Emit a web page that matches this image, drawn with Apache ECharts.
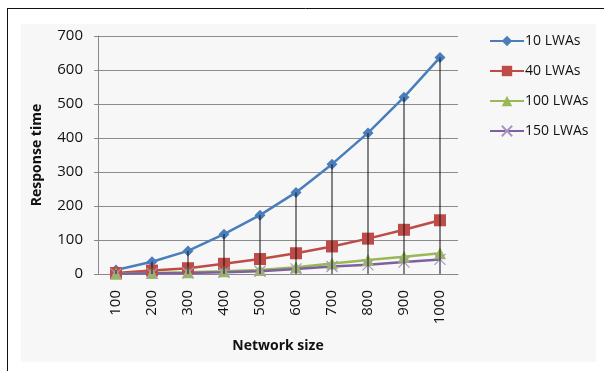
<!DOCTYPE html>
<html>
<head>
<meta charset="utf-8">
<script src="https://cdn.jsdelivr.net/npm/echarts@6/dist/echarts.min.js"></script>
<style>
  html, body { margin: 0; padding: 0; background: #fff; }
  #main { width: 604px; height: 371px; }
</style>
</head>
<body>
<div id="main"></div>
<script>
// network sizes on the x axis
const sizes = ['100', '200', '300', '400', '500', '600', '700', '800', '900', '1000'];
const lwa10 = [12, 36, 68, 117, 173, 240, 323, 415, 520, 637];
const lwa40 = [3, 10, 17, 30, 44, 61, 81, 104, 130, 158];
const lwa100 = [1, 3, 5, 8, 12, 20, 31, 41, 51, 61];
const lwa150 = [0.5, 2, 3, 5, 8, 15, 22, 27, 35, 43];
const yTicks = [0, 100, 200, 300, 400, 500, 600, 700];

const font = 'Open Sans';
const chart = echarts.init(document.getElementById('main'));

function lineSeries(name, data, color, symbol, size, extra) {
  return Object.assign({
    name: name,
    type: 'line',
    data: data,
    symbol: symbol,
    symbolSize: size,
    showAllSymbol: true,
    z: 3,
    lineStyle: {color: color, width: 2.5},
    itemStyle: {color: color},
  }, extra || {});
}

const option = {
  animation: false,
  graphic: [
    {type: 'line', shape: {x1: 7, y1: 8.5, x2: 604, y2: 8.5}, style: {stroke: '#111', lineWidth: 1}},
    {type: 'line', shape: {x1: 7.5, y1: 8, x2: 7.5, y2: 371}, style: {stroke: '#111', lineWidth: 1}},
    {type: 'rect', z: -10, shape: {x: 21, y: 24, width: 575, height: 338}, style: {fill: '#f7f7f7'}},
  ],
  legend: {
    orient: 'vertical',
    left: 484,
    top: 29,
    itemGap: 16,
    itemWidth: 34,
    itemHeight: 13,
    data: ['10 LWAs', '40 LWAs', '100 LWAs', '150 LWAs'],
    textStyle: {fontFamily: font, fontSize: 14, color: '#111', padding: [0, 0, 0, -4]},
  },
  grid: {left: 98, right: 146, top: 36, bottom: 97},
  xAxis: {
    type: 'category',
    data: sizes,
    name: 'Network size',
    nameLocation: 'middle',
    nameGap: 65,
    nameTextStyle: {fontFamily: font, fontSize: 14, fontWeight: 'bold', color: '#111'},
    axisLine: {lineStyle: {color: '#888'}},
    axisTick: {show: false},
    axisLabel: {rotate: 90, margin: 16, fontFamily: font, fontSize: 15, color: '#111'},
  },
  yAxis: {
    type: 'value',
    min: 0,
    max: 700,
    interval: 100,
    name: 'Response time',
    nameLocation: 'middle',
    nameGap: 54,
    nameTextStyle: {fontFamily: font, fontSize: 14, fontWeight: 'bold', color: '#111'},
    axisLine: {show: true, lineStyle: {color: '#888'}},
    axisTick: {show: true, length: 4, lineStyle: {color: '#888'}},
    splitLine: {lineStyle: {color: '#8c8c8c'}},
    axisLabel: {margin: 15, fontFamily: font, fontSize: 15, color: '#111',
      formatter: v => (yTicks.indexOf(v) >= 0 ? String(v) : '')},
  },
  series: [
    lineSeries('10 LWAs', lwa10, '#4a7ebb', 'diamond', 11),
    lineSeries('40 LWAs', lwa40, '#be4b48', 'rect', 12),
    lineSeries('100 LWAs', lwa100, '#98b954', 'triangle', 12),
    lineSeries('150 LWAs', lwa150, '#7d60a0', 'path://M0,0L10,10M10,0L0,10', 11, {
      itemStyle: {color: 'rgba(0,0,0,0)', borderColor: '#a896c4', borderWidth: 1.2},
    }),
    {
      // drop lines from the 10 LWAs points
      name: 'drop',
      type: 'bar',
      data: lwa10,
      barWidth: 1,
      z: 5,
      itemStyle: {color: '#111'},
      silent: true,
    },
  ],
};
chart.setOption(option);
</script>
</body>
</html>
